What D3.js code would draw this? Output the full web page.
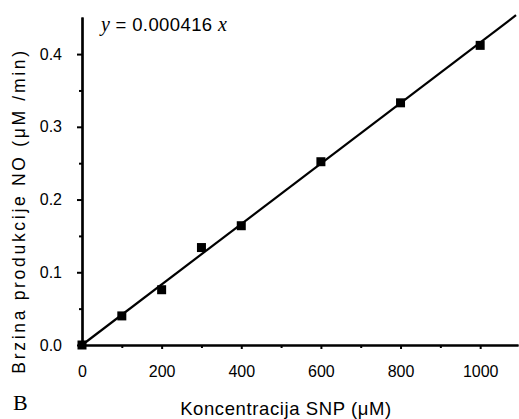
<!DOCTYPE html>
<html><head><meta charset="utf-8">
<script src="https://cdn.jsdelivr.net/npm/d3@7"></script>
<style>body{margin:0;background:#fff}</style>
</head><body>
<svg id="c" width="519" height="419"></svg>
<script>
const xVals = [0, 100, 200, 300, 400, 600, 800, 1000];
const yVals = [0, 0.040, 0.076, 0.134, 0.164, 0.252, 0.333, 0.412];
const slope = 0.000416;
const xTicks = [0, 200, 400, 600, 800, 1000];
const xMinor = [100, 300, 500, 700, 900];
const yTicks = [0, 0.1, 0.2, 0.3, 0.4];
const yMinor = [0.05, 0.15, 0.25, 0.35];

const svg = d3.select("#c");
const x = d3.scaleLinear().domain([0, 1095]).range([82, 518]);
const y = d3.scaleLinear().domain([0, 0.451]).range([345, 17]);
const font = "Liberation Sans, Arial, sans-serif";
const serif = "Liberation Serif, Times New Roman, serif";

// fit line
svg.append("line")
  .attr("x1", x(0)).attr("y1", y(0))
  .attr("x2", x(1090)).attr("y2", y(slope*1090))
  .attr("stroke", "#000").attr("stroke-width", 2.2);

// axes
const gx = svg.append("g").attr("transform", `translate(0,${y(0)})`)
  .call(d3.axisBottom(x).tickValues(xTicks).tickSize(4).tickSizeOuter(0).tickFormat(d3.format("d")));
const gxm = svg.append("g").attr("transform", `translate(0,${y(0)})`)
  .call(d3.axisBottom(x).tickValues(xMinor).tickSize(3).tickSizeOuter(0).tickFormat(""));
const gy = svg.append("g").attr("transform", `translate(${x(0)},0)`)
  .call(d3.axisLeft(y).tickValues(yTicks).tickSize(5).tickSizeOuter(0).tickPadding(15).tickFormat(d3.format(".1f")));
const gym = svg.append("g").attr("transform", `translate(${x(0)},0)`)
  .call(d3.axisLeft(y).tickValues(yMinor).tickSize(3).tickSizeOuter(0).tickFormat(""));
[gx, gxm, gy, gym].forEach(g => {
  g.select(".domain").attr("stroke-width", 2.2);
  g.selectAll(".tick line").attr("stroke-width", 2);
  g.selectAll("text").attr("font-family", font).attr("font-size", 16).attr("fill", "#000");
});
gx.selectAll("text").attr("dy", "0").attr("y", 32);

// points
svg.append("g").selectAll("rect").data(xVals.map((d, i) => [d, yVals[i]])).join("rect")
  .attr("x", d => x(d[0]) - 4.5).attr("y", d => y(d[1]) - 4.5)
  .attr("width", 9).attr("height", 9).attr("fill", "#000");

// equation
const eq = svg.append("text").attr("x", 101).attr("y", 31).attr("font-size", 20).attr("fill", "#000");
eq.append("tspan").attr("font-family", serif).attr("font-style", "italic").text("y");
eq.append("tspan").attr("font-family", font).attr("font-size", 18.5).attr("letter-spacing", 0.4).text(" = 0.000416 ");
eq.append("tspan").attr("font-family", serif).attr("font-style", "italic").text("x");

// x label
svg.append("text").attr("x", 286).attr("y", 415).attr("text-anchor", "middle")
  .attr("font-family", font).attr("font-size", 18.5).attr("letter-spacing", 0.6).attr("fill", "#000")
  .text("Koncentracija SNP (μM)");

// y label
svg.append("text").attr("transform", "translate(25,211) rotate(-90)").attr("text-anchor", "middle")
  .attr("font-family", font).attr("font-size", 17.5).attr("letter-spacing", 2.7).attr("fill", "#000")
  .text("Brzina produkcije NO  (μM /min)");

// panel letter
svg.append("text").attr("x", 13).attr("y", 410)
  .attr("font-family", serif).attr("font-size", 22).attr("fill", "#000")
  .text("B");
</script>
</body></html>
